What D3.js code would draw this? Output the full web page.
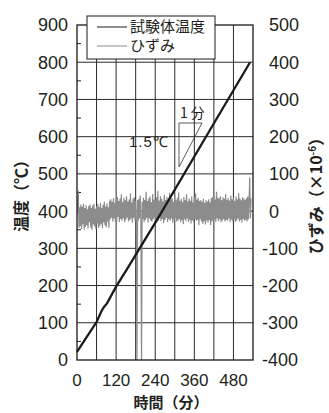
<!DOCTYPE html>
<html>
<head>
<meta charset="utf-8">
<script src="https://cdn.jsdelivr.net/npm/d3@7"></script>
<style>
body { margin: 0; background: #fff; }
svg text { font-family: "Liberation Sans", Arial, sans-serif; fill: #231f20; }
.jp { font-family: "Noto Sans CJK JP", sans-serif; }
</style>
</head>
<body>
<div id="chart"></div>
<script>
var width = 329;
var height = 413;

// temperature of the specimen (min, degC)
var tempTime = [0, 30, 60, 76, 84, 92, 120, 152, 245, 408, 531];
var tempValue = [22, 62, 102, 133, 144, 152, 197, 242, 376, 618, 800];

// strain (x10^-6), sampled every 2 minutes from t = 0
var strainStart = 0;
var strainStep = 2;
var strainValue = [
	-10, 15, 55, -45, 10, -40, 18, -48, 12, -35,
	20, -50, 8, -42, 16, -38, 5, -47, 14, -30,
	18, -44, 9, -50, 15, -36, 20, -41, 6, -49,
	13, -33, 19, -45, 11, -40, 22, -34, 8, -46,
	17, -30, 25, -38, 12, -43, 21, -28, 10, -45,
	28, -22, 32, -18, 25, -28, 35, -20, 22, -30,
	30, -25, 38, -16, 27, -29, 33, -21, 45, -26,
	24, -19, 36, -30, 29, -23, 40, -17, 26, -28,
	31, -24, 48, -20, 23, -31, 34, -18, 37, -26,
	28, -22, -420, 30, -25, 33, -19, 42, -27, -420,
	25, -21, 36, -29, 30, -24, 52, -18, 27, -31,
	34, -20, 39, -26, 24, -28, 46, -22, 31, -17,
	29, -30, 37, -23, 55, -25, 28, -19, 40, -27,
	33, -21, 26, -32, 44, -24, 30, -18, 38, -29,
	27, -22, 49, -26, 32, -20, 35, -31, 25, -23,
	41, -19, 29, -28, 36, -25, 50, -21, 27, -30,
	33, -24, 24, -35, 38, -22, 30, -27, 45, -20,
	26, -29, 34, -23, 28, -33, 39, -25, 23, -30,
	37, -21, 47, -26, 31, -24, 35, -38, 27, -22,
	30, -28, 25, -34, 33, -27, 22, -36, 29, -25,
	26, -31, 32, -24, 24, -37, 35, -28, 38, -26,
	43, -23, 31, -29, 52, -20, 36, -27, 34, -22,
	40, -30, 29, -25, 37, -21, 33, -28, 46, -24,
	30, -26, 35, -19, 28, -30, 42, -23, 32, -27,
	36, -22, 27, -29, 39, -25, 31, -20, 48, -28,
	34, -24, 29, -31, 37, -21, 33, -26, 30, -23,
	35, -28, 40, -22, 31, 90, -20, 34
];

var xTicks = [0, 120, 240, 360, 480];
var yLeftTicks = [0, 100, 200, 300, 400, 500, 600, 700, 800, 900];
var yRightTicks = [-400, -300, -200, -100, 0, 100, 200, 300, 400, 500];
var legendLabels = ["試験体温度", "ひずみ"];

var svg = d3
	.select("#chart")
	.append("svg")
	.attr("width", width)
	.attr("height", height);

var plot = { left: 77, right: 253, top: 25, bottom: 360 };

var x = d3.scaleLinear().domain([0, 540]).range([plot.left, plot.right]);
var yLeft = d3.scaleLinear().domain([0, 900]).range([plot.bottom, plot.top]);
var yRight = d3.scaleLinear().domain([-400, 500]).range([plot.bottom, plot.top]);

svg.append("clipPath")
	.attr("id", "clip")
	.append("rect")
	.attr("x", plot.left)
	.attr("y", plot.top)
	.attr("width", plot.right - plot.left)
	.attr("height", plot.bottom - plot.top);

// grid lines
var grid = svg.append("g").attr("stroke", "#2a2a2a").attr("stroke-width", 1);
grid.selectAll(".gx")
	.data(d3.range(60, 540, 60))
	.enter()
	.append("line")
	.attr("x1", (d) => x(d))
	.attr("x2", (d) => x(d))
	.attr("y1", plot.top)
	.attr("y2", plot.bottom);
grid.selectAll(".gy")
	.data(d3.range(100, 900, 100))
	.enter()
	.append("line")
	.attr("x1", plot.left)
	.attr("x2", plot.right)
	.attr("y1", (d) => yLeft(d))
	.attr("y2", (d) => yLeft(d));

// minor ticks on left axis
svg.append("g")
	.attr("stroke", "#222")
	.selectAll("line")
	.data(d3.range(50, 900, 100))
	.enter()
	.append("line")
	.attr("x1", plot.left)
	.attr("x2", plot.left + 4)
	.attr("y1", (d) => yLeft(d))
	.attr("y2", (d) => yLeft(d));

// strain
var strainLine = d3
	.line()
	.x((d, i) => x(strainStart + i * strainStep))
	.y((d) => yRight(d));
svg.append("path")
	.datum(strainValue)
	.attr("clip-path", "url(#clip)")
	.attr("d", strainLine)
	.attr("fill", "none")
	.attr("stroke", "#8c8c8c")
	.attr("stroke-width", 1.2);

// temperature
var tempLine = d3
	.line()
	.x((d, i) => x(tempTime[i]))
	.y((d) => yLeft(d));
svg.append("path")
	.datum(tempValue)
	.attr("d", tempLine)
	.attr("fill", "none")
	.attr("stroke", "#1a1a1a")
	.attr("stroke-width", 2.3);

// frame
svg.append("rect")
	.attr("x", plot.left)
	.attr("y", plot.top)
	.attr("width", plot.right - plot.left)
	.attr("height", plot.bottom - plot.top)
	.attr("fill", "none")
	.attr("stroke", "#1a1a1a")
	.attr("stroke-width", 1.3);

// tick labels
svg.append("g")
	.selectAll("text")
	.data(yLeftTicks)
	.enter()
	.append("text")
	.attr("x", 68)
	.attr("y", (d) => yLeft(d))
	.attr("dy", "0.36em")
	.attr("text-anchor", "end")
	.attr("font-size", 18)
	.text((d) => d);

svg.append("g")
	.selectAll("text")
	.data(yRightTicks)
	.enter()
	.append("text")
	.attr("x", (d) => (d < 0 ? 262 : 269))
	.attr("y", (d) => yRight(d))
	.attr("dy", "0.36em")
	.attr("font-size", 18)
	.text((d) => d);

svg.append("g")
	.selectAll("text")
	.data(xTicks)
	.enter()
	.append("text")
	.attr("x", (d) => x(d))
	.attr("y", 386)
	.attr("text-anchor", "middle")
	.attr("font-size", 17)
	.text((d) => d);

// axis titles
svg.append("text")
	.attr("class", "jp")
	.attr("transform", "translate(27,192) rotate(-90)")
	.attr("text-anchor", "middle")
	.attr("font-size", 16)
	.attr("font-weight", "bold")
	.text("温度（℃）");

var rTitle = svg.append("text")
	.attr("class", "jp")
	.attr("transform", "translate(322,192) rotate(-90)")
	.attr("text-anchor", "middle")
	.attr("font-size", 16)
	.attr("font-weight", "bold");
rTitle.append("tspan").text("ひずみ（×10");
rTitle.append("tspan").attr("dy", -6).attr("font-size", 10).text("-6");
rTitle.append("tspan").attr("dy", 6).text("）");

svg.append("text")
	.attr("class", "jp")
	.attr("x", (plot.left + plot.right) / 2 + 6)
	.attr("y", 408)
	.attr("text-anchor", "middle")
	.attr("font-size", 15)
	.attr("font-weight", "bold")
	.text("時間（分）");

// legend
var legend = svg.append("g");
legend.append("rect")
	.attr("x", 87)
	.attr("y", 16)
	.attr("width", 128)
	.attr("height", 43)
	.attr("fill", "#fff")
	.attr("stroke", "#1a1a1a")
	.attr("stroke-width", 1);
var legendColors = ["#1a1a1a", "#8c8c8c"];
legendLabels.forEach(function (label, i) {
	var ly = 27 + i * 19;
	legend.append("line")
		.attr("x1", 97)
		.attr("x2", 127)
		.attr("y1", ly)
		.attr("y2", ly)
		.attr("stroke", legendColors[i])
		.attr("stroke-width", 1);
	legend.append("text")
		.attr("class", "jp")
		.attr("x", 130)
		.attr("y", ly)
		.attr("dy", "0.36em")
		.attr("font-size", 15)
		.text(label);
});

// slope annotation
var note = svg.append("g");
note.append("path")
	.attr("d", "M179,123 L202,123 L179,167 Z")
	.attr("fill", "none")
	.attr("stroke", "#333")
	.attr("stroke-width", 0.8);
note.append("text")
	.attr("class", "jp")
	.attr("x", 180)
	.attr("y", 118)
	.attr("font-size", 14)
	.attr("letter-spacing", 3)
	.text("1分");
note.append("text")
	.attr("x", 129)
	.attr("y", 147)
	.attr("font-size", 15)
	.attr("fill", "#333")
	.attr("letter-spacing", 1)
	.text("1.5℃");
</script>
</body>
</html>
